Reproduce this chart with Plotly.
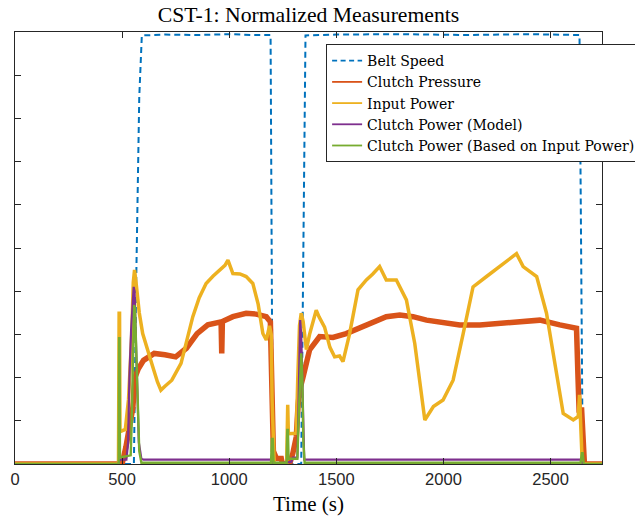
import plotly.graph_objects as go

# ---------------- data ----------------
belt_t = [0, 555, 565, 580, 592, 700, 850, 1000, 1100, 1193, 1197, 1203,
          1336, 1347, 1356, 1500, 1800, 2100, 2400, 2635, 2642, 2650, 2740]
belt_v = [0, 0, 0.40, 0.85, 0.992, 0.994, 0.993, 0.995, 0.993, 0.993, 0.60, 0,
          0, 0.63, 0.992, 0.994, 0.995, 0.993, 0.995, 0.993, 0.60, 0, 0]

pres_t = [0, 500, 518, 534, 550, 560, 575, 600, 650, 700, 750, 800, 850, 900,
          955, 962, 965, 968, 1017, 1079, 1126, 1173, 1192, 1198, 1201, 1206,
          1220, 1243, 1248, 1282, 1297, 1313, 1321, 1328, 1344, 1360, 1375, 1422,
          1484, 1546, 1609, 1671, 1733, 1796, 1858, 1921, 1998, 2076, 2170, 2263,
          2357, 2450, 2543, 2621, 2628, 2633, 2645, 2652, 2658, 2740]
pres_v = [0, 0, 0.04, 0.08, 0.13, 0.20, 0.22, 0.24, 0.256, 0.253, 0.248, 0.268,
          0.302, 0.322, 0.329, 0.329, 0.256, 0.330, 0.341, 0.349, 0.347, 0.341,
          0.329, 0.20, 0.094, 0.03, 0.013, 0.013, 0, 0, 0.025, 0.063, 0.133, 0.17,
          0.20, 0.24, 0.264, 0.295, 0.293, 0.302, 0.314, 0.329, 0.341, 0.345,
          0.341, 0.333, 0.329, 0.322, 0.322, 0.325, 0.329, 0.333, 0.322, 0.314,
          0.20, 0.125, 0.125, 0.05, 0, 0]

inp_t = [0, 483, 486, 488, 490, 515, 530, 545, 552, 558, 565, 580, 596, 620,
         643, 665, 681, 700, 732, 775, 800, 830, 860, 892, 925, 955, 980, 994,
         1017, 1050, 1079, 1110, 1135, 1157, 1173, 1188, 1196, 1200, 1205, 1210,
         1268, 1270, 1273, 1276, 1313, 1320, 1328, 1336, 1345, 1360, 1375, 1406,
         1420, 1445, 1470, 1492, 1515, 1531, 1562, 1601, 1640, 1670, 1702, 1733,
         1780, 1827, 1866, 1913, 1953, 1998, 2045, 2092, 2138, 2201, 2263, 2325,
         2341, 2372, 2435, 2481, 2528, 2559, 2606, 2629, 2635, 2641, 2648, 2740]
inp_v = [0, 0, 0.349, 0.349, 0.075, 0.08, 0.15, 0.30, 0.42, 0.449, 0.42, 0.35,
         0.302, 0.26, 0.225, 0.19, 0.171, 0.18, 0.194, 0.233, 0.28, 0.341, 0.385,
         0.418, 0.435, 0.449, 0.46, 0.472, 0.441, 0.44, 0.434, 0.418, 0.37, 0.302,
         0.287, 0.32, 0.30, 0.15, 0.05, 0, 0, 0.137, 0.137, 0.07, 0.071, 0.20,
         0.32, 0.349, 0.33, 0.265, 0.30, 0.356, 0.34, 0.317, 0.27, 0.248, 0.25,
         0.237, 0.302, 0.403, 0.426, 0.44, 0.457, 0.426, 0.426, 0.38, 0.279,
         0.102, 0.133, 0.148, 0.194, 0.302, 0.41, 0.434, 0.457, 0.48, 0.487,
         0.457, 0.434, 0.349, 0.21, 0.117, 0.102, 0.11, 0.16, 0.10, 0, 0]

model_t = [0, 483, 488, 520, 528, 534, 542, 550, 554, 558, 563, 570, 578, 590,
           600, 800, 1000, 1200, 1205, 1290, 1297, 1318, 1322, 1327, 1331, 1336,
           1342, 1350, 1600, 2000, 2400, 2640, 2650, 2740]
model_v = [0, 0, 0.01, 0.01, 0.05, 0.20, 0.31, 0.39, 0.41, 0.40, 0.30, 0.15,
           0.05, 0.012, 0.01, 0.01, 0.01, 0.01, 0, 0.005, 0.015, 0.015, 0.10,
           0.25, 0.333, 0.30, 0.15, 0.01, 0.01, 0.01, 0.01, 0.01, 0, 0]

based_t = [0, 484, 486, 488, 490, 540, 545, 550, 556, 560, 566, 572, 580, 590,
           1195, 1199, 1203, 1207, 1268, 1271, 1274, 1277, 1318, 1325, 1331,
           1336, 1341, 1346, 1352, 2640, 2646, 2650, 2655, 2740]
based_v = [0, 0, 0.291, 0.291, 0.015, 0.02, 0.10, 0.25, 0.368, 0.36, 0.25, 0.12,
           0.03, 0.003, 0.003, 0.058, 0.058, 0.003, 0.003, 0.079, 0.079, 0.012,
           0.012, 0.12, 0.22, 0.256, 0.20, 0.05, 0.003, 0.003, 0.025, 0.025, 0, 0]

names = ["Belt Speed", "Clutch Pressure", "Input Power",
         "Clutch Power (Model)", "Clutch Power (Based on Input Power)"]
colors = ["#0072BD", "#D95319", "#EDB120", "#7E2F8E", "#77AC30"]
x_ticks = [0, 500, 1000, 1500, 2000, 2500]
y_ticks = [0, 0.1, 0.2, 0.3, 0.4, 0.5, 0.6, 0.7, 0.8, 0.9, 1.0]

series = [(belt_t, belt_v), (pres_t, pres_v), (inp_t, inp_v),
          (model_t, model_v), (based_t, based_v)]
widths = [2, 5.5, 3.5, 2.2, 2.4]
dashes = ["6px,4px", "solid", "solid", "solid", "solid"]

fig = go.Figure()
for (t, v), n, c, w, d in zip(series, names, colors, widths, dashes):
    fig.add_trace(go.Scatter(x=t, y=v, mode="lines", name=n, showlegend=False,
                             line=dict(color=c, width=w, dash=d)))
# legend entries (thin samples, like the reference legend)
for n, c, d in zip(names, colors, dashes):
    fig.add_trace(go.Scatter(x=[None], y=[None], mode="lines", name=n,
                             line=dict(color=c, width=1.8,
                                       dash=d if d == "solid" else "5px,3.5px")))

axis_col = "#262626"
fig.update_layout(
    width=635, height=520,
    margin=dict(l=15, r=33, t=32, b=56, autoexpand=False),
    paper_bgcolor="white", plot_bgcolor="white",
    title=dict(text="CST-1: Normalized Measurements", x=0.5, xanchor="center",
               xref="paper", yref="container", y=0.972, yanchor="middle",
               font=dict(family="Liberation Serif", size=21.7, color="#000")),
    xaxis=dict(range=[0, 2740], tickvals=x_ticks, ticks="inside", ticklen=6,
               tickcolor=axis_col, showline=True, linecolor=axis_col, linewidth=1,
               mirror="ticks", showgrid=False, zeroline=False,
               tickfont=dict(family="Liberation Sans", size=16.5, color=axis_col),
               title=dict(text="Time (s)", standoff=9,
                          font=dict(family="Liberation Serif", size=21, color="#000"))),
    yaxis=dict(range=[0, 1], tickvals=y_ticks, ticks="inside", ticklen=6,
               tickcolor=axis_col, showline=True, linecolor=axis_col, linewidth=1,
               mirror="ticks", showgrid=False, zeroline=False, showticklabels=False),
    legend=dict(x=0.53, y=0.972, xanchor="left", yanchor="top", xref="paper", yref="paper",
                bgcolor="white", bordercolor=axis_col, borderwidth=1,
                font=dict(family="DejaVu Serif", size=14, color="#000"),
                itemwidth=30, tracegroupgap=0),
)
fig.write_html("out.html", config={"displayModeBar": False},
               post_script="document.body.style.margin='0';document.body.style.overflow='hidden';")
